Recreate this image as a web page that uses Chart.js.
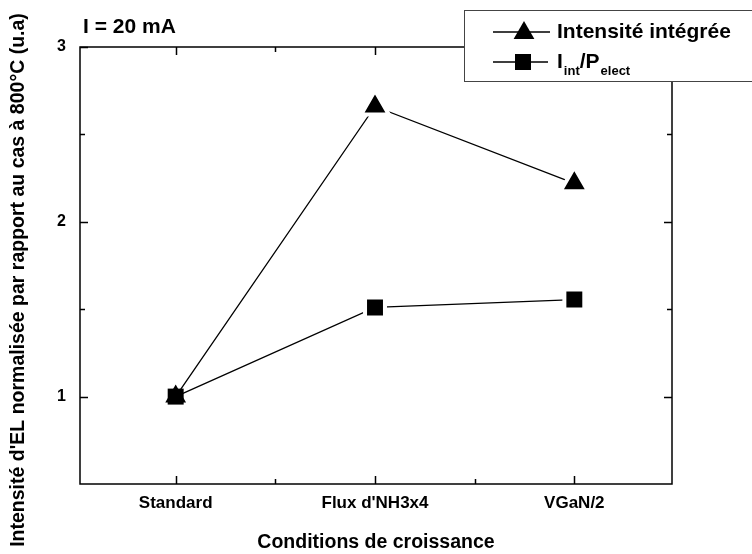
<!DOCTYPE html>
<html><head><meta charset="utf-8">
<script src="https://cdn.jsdelivr.net/npm/chart.js@4.4.0/dist/chart.umd.min.js"></script>
<style>html,body{margin:0;padding:0;background:#fff}#wrap{width:752px;height:554px;position:relative}</style>
</head><body><div id="wrap"><canvas id="c" width="752" height="554"></canvas></div>
<script>
// ---- data ----
const categories = ['Standard', "Flux d'NH3x4", 'VGaN/2'];
const intensiteIntegree = [1.0, 2.66, 2.22];
const intParPelect = [1.0, 1.51, 1.555];
const yTickValues = [1, 2, 3];
const yMinorValues = [1.5, 2.5];
const xMinorValues = [0.5, 1.5];
const xTitle = 'Conditions de croissance';
const yTitle = "Intensité d'EL normalisée par rapport au cas à 800°C (u.a)";
const annotation = 'I = 20 mA';
const legendLabel1 = 'Intensité intégrée';
const legendLabel2Parts = [['I', false], ['int', true], ['/P', false], ['elect', true]];

const FONT = "'Liberation Sans', Arial, sans-serif";
Chart.defaults.font.family = FONT;
Chart.defaults.color = '#000';

const decorPlugin = {
  id: 'decor',
  afterDraw(chart) {
    const ctx = chart.ctx, a = chart.chartArea;
    const xs = chart.scales.x, ys = chart.scales.y;
    ctx.save();
    // frame
    ctx.strokeStyle = '#000';
    ctx.lineWidth = 1.5;
    ctx.strokeRect(a.left, a.top, a.right - a.left, a.bottom - a.top);
    // ticks (inward)
    ctx.beginPath();
    const xt = [...categories.map((c, i) => [i, 8]), ...xMinorValues.map(v => [v, 5])];
    xt.forEach(([v, len]) => {
      const px = Math.round(xs.getPixelForValue(v)) + 0.5;
      ctx.moveTo(px, a.bottom); ctx.lineTo(px, a.bottom - len);
      ctx.moveTo(px, a.top); ctx.lineTo(px, a.top + len);
    });
    const yt = [...yTickValues.map(v => [v, 8]), ...yMinorValues.map(v => [v, 5])];
    yt.forEach(([v, len]) => {
      const py = Math.round(ys.getPixelForValue(v)) + 0.5;
      ctx.moveTo(a.left, py); ctx.lineTo(a.left + len, py);
      ctx.moveTo(a.right, py); ctx.lineTo(a.right - len, py);
    });
    ctx.stroke();

    // y title
    ctx.fillStyle = '#000';
    ctx.save();
    ctx.translate(19, 280);
    ctx.rotate(-Math.PI / 2);
    ctx.font = 'bold 19.5px ' + FONT;
    ctx.textAlign = 'center';
    ctx.textBaseline = 'middle';
    ctx.fillText(yTitle, 0, 0);
    ctx.restore();

    // annotation
    ctx.font = 'bold 21px ' + FONT;
    ctx.textAlign = 'left';
    ctx.textBaseline = 'alphabetic';
    ctx.fillText(annotation, 83, 33);

    // legend box
    ctx.fillStyle = '#fff';
    ctx.fillRect(464.5, 10.5, 300, 71);
    ctx.strokeStyle = '#444';
    ctx.lineWidth = 1;
    ctx.strokeRect(464.5, 10.5, 300, 71);
    ctx.strokeStyle = '#000';
    ctx.fillStyle = '#000';
    ctx.lineWidth = 1.3;
    ctx.beginPath();
    ctx.moveTo(493, 32); ctx.lineTo(550, 32);
    ctx.moveTo(493, 62); ctx.lineTo(548, 62);
    ctx.stroke();
    Chart.helpers.drawPoint(ctx, {pointStyle: 'triangle', radius: 12, borderWidth: 0, rotation: 0}, 524, 33);
    Chart.helpers.drawPoint(ctx, {pointStyle: 'rect', radius: 11.3, borderWidth: 0, rotation: 0}, 523, 62);
    ctx.font = 'bold 21px ' + FONT;
    ctx.fillText(legendLabel1, 557, 38);
    let x = 557;
    legendLabel2Parts.forEach(([t, sub]) => {
      ctx.font = (sub ? 'bold 13px ' : 'bold 21px ') + FONT;
      ctx.fillText(t, x, sub ? 75 : 68);
      x += ctx.measureText(t).width + (sub ? 0 : 1);
    });
    ctx.restore();
  }
};

new Chart(document.getElementById('c'), {
  type: 'line',
  data: {
    datasets: [
      {
        label: legendLabel1,
        data: intensiteIntegree.map((v, i) => ({x: i, y: v})),
        borderColor: '#000', borderWidth: 1.3, tension: 0,
        pointStyle: 'triangle',
        pointRadius: [12, 16, 16],
        pointBorderWidth: [0, 4, 4],
        pointBorderColor: '#fff',
        pointBackgroundColor: '#000',
        clip: false
      },
      {
        label: 'Iint/Pelect',
        data: intParPelect.map((v, i) => ({x: i, y: v})),
        borderColor: '#000', borderWidth: 1.3, tension: 0,
        pointStyle: 'rect',
        pointRadius: [11.3, 14.1, 14.1],
        pointBorderWidth: [0, 4, 4],
        pointBorderColor: '#fff',
        pointBackgroundColor: '#000',
        clip: false
      }
    ]
  },
  options: {
    responsive: false,
    devicePixelRatio: 1,
    animation: false,
    events: [],
    layout: {padding: {top: 47, right: 80, left: 0, bottom: 0}},
    plugins: {legend: {display: false}, tooltip: {enabled: false}},
    scales: {
      x: {
        type: 'linear', min: -0.48, max: 2.49,
        afterBuildTicks: s => { s.ticks = categories.map((c, i) => ({value: i})); },
        afterFit: s => { s.height = 70; },
        ticks: {
          callback: v => categories[v],
          font: {size: 17, weight: 'bold'}, color: '#000', padding: 9,
          autoSkip: false, maxRotation: 0
        },
        grid: {display: false, drawTicks: false},
        border: {display: false},
        title: {display: true, text: xTitle, font: {size: 19.5, weight: 'bold'}, color: '#000', padding: 0}
      },
      y: {
        type: 'linear', min: 0.5, max: 3,
        afterBuildTicks: s => { s.ticks = yTickValues.map(v => ({value: v})); },
        afterFit: s => { s.width = 80; },
        ticks: {font: {size: 16, weight: 'bold'}, color: '#000', padding: 14},
        grid: {display: false, drawTicks: false},
        border: {display: false}
      }
    }
  },
  plugins: [decorPlugin]
});
</script>
</body></html>
